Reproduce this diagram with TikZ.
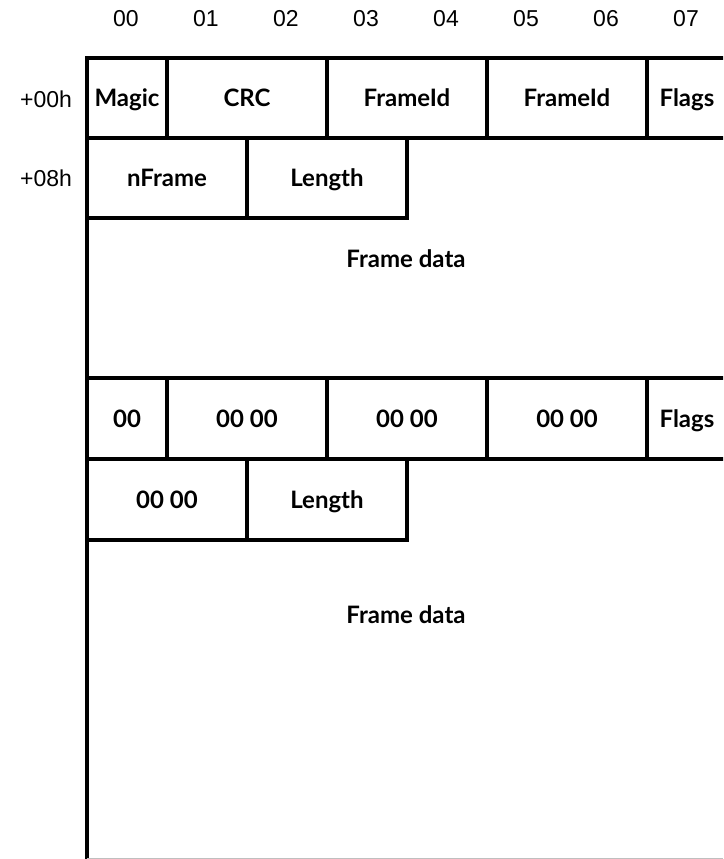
\documentclass[tikz,border=0pt]{standalone}
\usepackage{fontspec}
\setmainfont{Liberation Sans}
\newfontfamily\cellfont{Lato}
\begin{document}
\begin{tikzpicture}[x=1pt,y=-1pt,
  cell/.style={draw=black, line width=3.2pt, rectangle, inner sep=0pt, outer sep=0pt, anchor=north west,
    minimum height=80pt, text height=17.2pt, text depth=0pt,
    font=\cellfont\bfseries\fontsize{24}{28}\selectfont},
  one/.style={minimum width=80pt},
  two/.style={minimum width=160pt},
  hdr/.style={font=\fontsize{23}{27}\selectfont, inner sep=0pt, text height=16.5pt, text depth=0pt},
  lbl/.style={font=\cellfont\bfseries\fontsize{24}{28}\selectfont, inner sep=0pt, text height=17.2pt, text depth=0pt},
  border/.style={line width=3.2pt}]
\useasboundingbox (0,0) rectangle (723,859);
\fill[white] (0,0) rectangle (723,859);
\begin{scope}
\clip (0,0) rectangle (723,859);
% column headers
\foreach \i/\t in {0/00,1/01,2/02,3/03,4/04,5/05,6/06,7/07}
  \node[hdr] (h\i) at (126+80*\i,18) {\t};
\node[hdr] (r0) at (46,99) {+00h};
\node[hdr] (r1) at (46,178) {+08h};
% first block
\node[cell,one] (magic) at (87,58) {Magic};
\node[cell,two] (crc) at (167,58) {CRC};
\node[cell,two] (fid1) at (327,58) {FrameId};
\node[cell,two] (fid2) at (487,58) {FrameId};
\node[cell,one] (flags) at (647,58) {Flags};
\node[cell,two] (nframe) at (87,138) {nFrame};
\node[cell,two] (len) at (247,138) {Length};
\node[lbl] (fd1) at (406,259) {Frame data};
% second block
\node[cell,one,minimum height=81pt] (z0) at (87,378) {00};
\node[cell,two,minimum height=81pt] (z1) at (167,378) {00 00};
\node[cell,two,minimum height=81pt] (z2) at (327,378) {00 00};
\node[cell,two,minimum height=81pt] (z3) at (487,378) {00 00};
\node[cell,one,minimum height=81pt] (flags2) at (647,378) {Flags};
\node[cell,two,minimum height=81pt] (zn) at (87,459) {00 00};
\node[cell,two,minimum height=81pt] (len2) at (247,459) {Length};
\node[lbl] (fd2) at (406,615) {Frame data};
% left border running down
\coordinate (bot) at (87,860);
\draw[border] (nframe.south west) -- (z0.north west);
\draw[border] (zn.south west) -- (bot);
\draw[line width=1pt, black!25] (87,858) -- (723,858);
\end{scope}
\end{tikzpicture}
\end{document}
